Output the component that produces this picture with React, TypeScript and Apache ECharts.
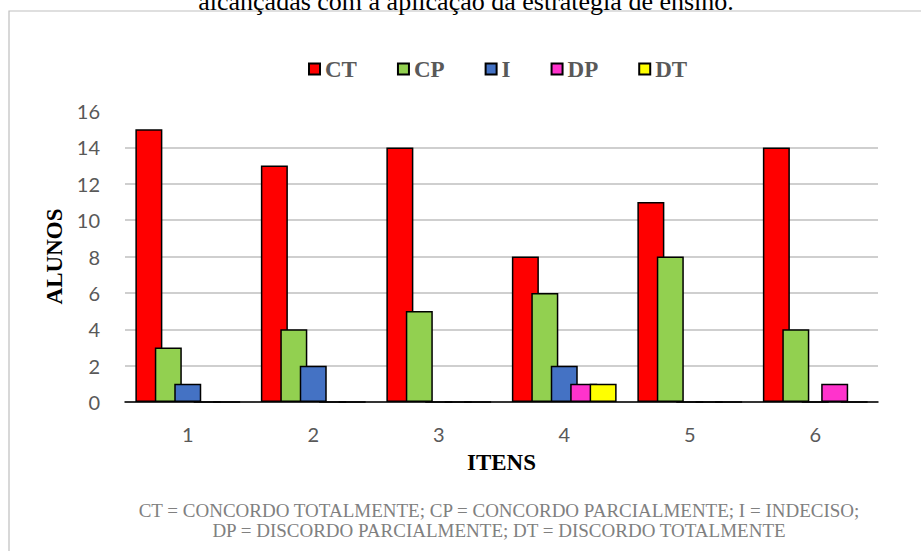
import React, { useEffect, useRef } from "react";
import * as echarts from "echarts";

const categories = ["1", "2", "3", "4", "5", "6"];
const seriesNames = ["CT", "CP", "I", "DP", "DT"];
const ctValues = [15, 13, 14, 8, 11, 14];
const cpValues = [3, 4, 5, 6, 8, 4];
const iValues = [1, 2, 0, 2, 0, 0];
const dpValues = [0, 0, 0, 1, 0, 1];
const dtValues = [0, 0, 0, 1, 0, 0];
const seriesColors = ["#FF0000", "#92D050", "#4472C4", "#FF33CC", "#FFFF00"];
const yTicks = [0, 2, 4, 6, 8, 10, 12, 14, 16];

const captionText = "alcançadas com a aplicação da estratégia de ensino.";
const footLine1 = "CT = CONCORDO TOTALMENTE; CP = CONCORDO PARCIALMENTE; I = INDECISO;";
const footLine2 = "DP = DISCORDO PARCIALMENTE; DT = DISCORDO TOTALMENTE";

export default function App() {
  const ref = useRef<HTMLDivElement>(null);
  useEffect(() => {
    if (!ref.current) return;
    const chart = echarts.init(ref.current, undefined, { renderer: "svg" });
    const allValues = [ctValues, cpValues, iValues, dpValues, dtValues];
    const gridColors = yTicks.map((t, i) => (i === yTicks.length - 1 ? "rgba(0,0,0,0)" : "#BFBFBF"));
    chart.setOption({
      animation: false,
      backgroundColor: "#ffffff",
      grid: { left: 125, right: 43, top: 111, bottom: 149, containLabel: false },
      legend: {
        data: seriesNames,
        left: 303,
        top: 52,
        icon: "rect",
        itemWidth: 11,
        itemHeight: 11,
        itemGap: 40,
        textStyle: {
          fontFamily: "Liberation Serif",
          fontWeight: "bold",
          fontSize: 23,
          color: "#595959",
          lineHeight: 24,
        },
      },
      xAxis: {
        type: "category",
        data: categories,
        name: "ITENS",
        nameLocation: "middle",
        nameGap: 49,
        nameTextStyle: {
          fontFamily: "Liberation Serif",
          fontWeight: "bold",
          fontSize: 23,
          color: "#000000",
        },
        axisLine: { lineStyle: { color: "#000000", width: 1.5 } },
        axisTick: { show: false },
        axisLabel: { fontFamily: "Lato", fontSize: 20, color: "#595959", margin: 22 },
      },
      yAxis: {
        type: "value",
        min: 0,
        max: 16,
        interval: 2,
        name: "ALUNOS",
        nameLocation: "middle",
        nameGap: 58,
        nameTextStyle: {
          fontFamily: "Liberation Serif",
          fontWeight: "bold",
          fontSize: 23,
          color: "#000000",
        },
        axisLine: { show: false },
        axisTick: { show: false },
        axisLabel: { fontFamily: "Lato", fontSize: 20, color: "#595959", margin: 25 },
        splitLine: { show: true, lineStyle: { color: gridColors, width: 1.5 } },
      },
      series: seriesNames.map((name, i) => ({
        name,
        type: "bar",
        data: allValues[i],
        barWidth: 27,
        barGap: "-28%",
        itemStyle: { color: seriesColors[i], borderColor: "#000000", borderWidth: 1.5 },
      })),
      graphic: [
        {
          type: "rect",
          shape: { x: 9, y: 11, width: 930, height: 560 },
          style: { fill: "none", stroke: "#BFBFBF", lineWidth: 1.2 },
          z: 1,
        },
        {
          type: "text",
          x: 466,
          y: 14,
          style: {
            text: captionText,
            fontFamily: "Liberation Serif",
            fontWeight: "normal",
            fontSize: 26,
            fill: "#000000",
            align: "center",
            verticalAlign: "bottom",
          },
          z: 2,
        },
        {
          type: "text",
          x: 499,
          y: 510,
          style: {
            text: footLine1,
            fontFamily: "Liberation Serif",
            fontSize: 19,
            fill: "#808080",
            align: "center",
            verticalAlign: "middle",
          },
        },
        {
          type: "text",
          x: 499,
          y: 530,
          style: {
            text: footLine2,
            fontFamily: "Liberation Serif",
            fontSize: 19,
            fill: "#808080",
            align: "center",
            verticalAlign: "middle",
          },
        },
      ],
    });
    return () => chart.dispose();
  }, []);
  return (
    <div
      ref={ref}
      style={{ position: "fixed", left: 0, top: 0, width: 921, height: 551 }}
    />
  );
}
